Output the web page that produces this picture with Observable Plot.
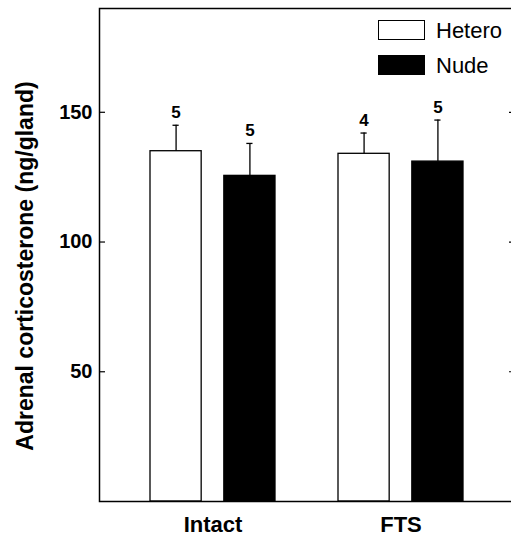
<!DOCTYPE html>
<html>
<head>
<meta charset="utf-8">
<script src="https://cdn.jsdelivr.net/npm/d3@7"></script>
<script src="https://cdn.jsdelivr.net/npm/@observablehq/plot@0.6"></script>
<style>
  html, body { margin: 0; padding: 0; background: #fff; overflow: hidden; }
  #wrap { position: relative; width: 511px; height: 538px; overflow: hidden; }
  #wrap svg { position: absolute; left: 0; top: 0; max-width: none !important; }
  .legend { position: absolute; left: 378px; top: 20px; font-family: "Liberation Sans", Arial, sans-serif; font-size: 22px; color: #000; }
  .legend .row { display: flex; align-items: center; height: 20px; margin-bottom: 15px; }
  .legend .row span { position: relative; top: 1px; }
  .legend .sw { width: 45px; height: 18px; border: 1px solid #000; margin-right: 11px; box-sizing: content-box; }
</style>
</head>
<body>
<div id="wrap"></div>
<script>
// ---- data ----
const groups = ["Intact", "FTS"];
const series = ["Hetero", "Nude"];
const seriesFill = ["white", "black"];
const heteroMean = [135, 134];
const nudeMean = [125.5, 131];
const heteroErr = [10, 8];
const nudeErr = [12.5, 16];
const heteroN = [5, 4];
const nudeN = [5, 5];
const yTicks = [50, 100, 150];
const yLabel = "Adrenal corticosterone (ng/gland)";

const means = [heteroMean, nudeMean];
const errs = [heteroErr, nudeErr];
const ns = [heteroN, nudeN];
const rows = groups.flatMap((g, i) => series.map((s, j) => ({
  group: g, series: s, mean: means[j][i], err: errs[j][i], n: String(ns[j][i])
})));

// ---- layout (style) ----
const W = 520, H = 538;
const mL = 99, mR = 6, mT = 8, mB = 37;
const pIn = 0.3325, pOut = 0.267;
const step = (W - mL - mR) / (groups.length - pIn + 2 * pOut);
const bw = step * (1 - pIn);
const BAR = 52;
const inset = bw - BAR;
const centerOff = bw / 2 - BAR / 2;
const CAP = 7;
const font = "'Liberation Sans', Arial, sans-serif";

const marks = [];
series.forEach((s, j) => {
  const data = rows.filter(d => d.series === s);
  const left = j === 0;
  marks.push(Plot.barY(data, {
    x: "group", y: "mean", fill: seriesFill[j], stroke: "black", strokeWidth: 1.3,
    insetLeft: left ? 0 : inset, insetRight: left ? inset : 0
  }));
  const dx = left ? -centerOff : centerOff;
  marks.push(Plot.ruleX(data, {x: "group", y1: "mean", y2: d => d.mean + d.err, dx, stroke: "black", strokeWidth: 1.3}));
  const capC = left ? BAR / 2 : bw - BAR / 2;
  marks.push(Plot.tickY(data, {
    x: "group", y: d => d.mean + d.err, stroke: "black", strokeWidth: 1.3,
    insetLeft: capC - CAP / 2, insetRight: bw - capC - CAP / 2
  }));
  marks.push(Plot.text(data, {
    x: "group", y: d => d.mean + d.err, text: "n", dx, dy: -13,
    fontSize: 17, fontWeight: "bold", fill: "black"
  }));
});

const chart = Plot.plot({
  width: W, height: H,
  marginLeft: mL, marginRight: mR, marginTop: mT, marginBottom: mB,
  style: {fontFamily: font, background: "white", color: "black", overflow: "visible", maxWidth: "none"},
  x: {type: "band", domain: groups, paddingInner: pIn, paddingOuter: pOut, align: 0.5},
  y: {domain: [0, 190]},
  marks: [
    ...marks,
    Plot.axisY({ticks: yTicks, tickSize: -6, tickPadding: 13, fontSize: 20, fontWeight: "bold", label: null, strokeWidth: 1.2}),
    Plot.axisY({ticks: yTicks, anchor: "right", tickSize: -6, tickFormat: () => "", label: null, strokeWidth: 1.2}),
    Plot.axisX({tickSize: 0, tickPadding: 15, fontSize: 22, fontWeight: "bold", label: null}),
    Plot.text([yLabel], {frameAnchor: "left", textAnchor: "middle", rotate: -90, dx: -74, dy: 11, fontSize: 23, fontWeight: "bold", fill: "black"}),
    Plot.frame({stroke: "black", strokeWidth: 1.5})
  ]
});

const wrap = document.getElementById("wrap");
wrap.appendChild(chart);

// legend
const legend = document.createElement("div");
legend.className = "legend";
series.forEach((s, j) => {
  const row = document.createElement("div");
  row.className = "row";
  const sw = document.createElement("div");
  sw.className = "sw";
  sw.style.background = seriesFill[j];
  const t = document.createElement("span");
  t.textContent = s;
  row.appendChild(sw);
  row.appendChild(t);
  legend.appendChild(row);
});
wrap.appendChild(legend);
</script>
</body>
</html>
